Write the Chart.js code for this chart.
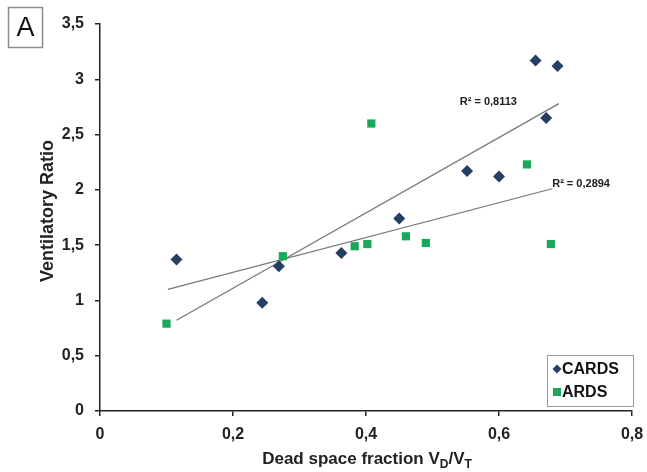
<!DOCTYPE html>
<html>
<head>
<meta charset="utf-8">
<script src="https://cdn.jsdelivr.net/npm/chart.js@4/dist/chart.umd.min.js"></script>
<style>
  html, body { margin: 0; background: #fff; }
</style>
</head>
<body>
<canvas id="chart" width="647" height="472"></canvas>
<script>
// CARDS (diamonds)
const cardsX = [0.115, 0.244, 0.269, 0.363, 0.450, 0.552, 0.600, 0.671, 0.655, 0.688];
const cardsY = [1.37, 0.98, 1.31, 1.43, 1.74, 2.17, 2.12, 2.65, 3.17, 3.12];
// ARDS (squares)
const ardsX = [0.100, 0.275, 0.383, 0.402, 0.408, 0.460, 0.490, 0.642, 0.678];
const ardsY = [0.79, 1.40, 1.49, 1.51, 2.60, 1.58, 1.52, 2.23, 1.51];
// trend line end points
const cardsTrendX = [0.115, 0.690];
const cardsTrendY = [0.82, 2.78];
const ardsTrendX = [0.102, 0.680];
const ardsTrendY = [1.10, 2.01];
const r2Labels = ['R² = 0,8113', 'R² = 0,2894'];
const r2Pos = [[0.541, 2.795], [0.680, 2.052]];

const FONT = '"Liberation Sans", Arial, sans-serif';
const NAVY = '#243e64';
const GREEN = '#1aa95b';

const pts = (xs, ys) => xs.map((x, i) => ({ x: x, y: ys[i] }));
const fmt = v => String(Number(v.toFixed(2))).replace('.', ',');

const extras = {
  id: 'extras',
  afterDraw(chart) {
    const ctx = chart.ctx;
    const xs = chart.scales.x, ys = chart.scales.y;
    ctx.save();
    // panel letter
    ctx.strokeStyle = '#8c8c8c';
    ctx.lineWidth = 1.5;
    ctx.strokeRect(8.5, 7.5, 34, 40);
    ctx.fillStyle = '#111';
    ctx.font = '27px ' + FONT;
    ctx.textAlign = 'center';
    ctx.textBaseline = 'middle';
    ctx.fillText('A', 25.5, 28.5);

    // R² labels
    ctx.font = 'bold 11px ' + FONT;
    ctx.textAlign = 'left';
    ctx.fillStyle = '#222';
    r2Labels.forEach((t, i) => {
      ctx.fillText(t, xs.getPixelForValue(r2Pos[i][0]), ys.getPixelForValue(r2Pos[i][1]));
    });

    // y title
    ctx.save();
    ctx.translate(48, 211);
    ctx.rotate(-Math.PI / 2);
    ctx.textAlign = 'center';
    ctx.font = 'bold 18px ' + FONT;
    ctx.fillText('Ventilatory Ratio', 0, 0);
    ctx.restore();

    // x title with subscripts
    const parts = [['Dead space fraction V', 0], ['D', 1], ['/V', 0], ['T', 1]];
    const big = 'bold 17px ' + FONT, small = 'bold 12px ' + FONT;
    let w = 0;
    parts.forEach(p => { ctx.font = p[1] ? small : big; w += ctx.measureText(p[0]).width; });
    let x = 367 - w / 2;
    const base = 464;
    ctx.textAlign = 'left';
    ctx.textBaseline = 'alphabetic';
    parts.forEach(p => {
      ctx.font = p[1] ? small : big;
      ctx.fillText(p[0], x, p[1] ? base + 4 : base);
      x += ctx.measureText(p[0]).width;
    });

    // legend
    ctx.strokeStyle = '#9a9a9a';
    ctx.lineWidth = 1;
    ctx.strokeRect(547.5, 355.5, 86, 51);
    ctx.font = 'bold 16px ' + FONT;
    ctx.textBaseline = 'middle';
    ctx.fillStyle = NAVY;
    ctx.beginPath();
    ctx.moveTo(557, 364.5); ctx.lineTo(561.5, 369); ctx.lineTo(557, 373.5); ctx.lineTo(552.5, 369);
    ctx.closePath(); ctx.fill();
    ctx.fillStyle = GREEN;
    ctx.fillRect(553, 388, 8, 8);
    ctx.fillStyle = '#111';
    ctx.fillText(chart.data.datasets[0].label, 562, 370);
    ctx.fillText(chart.data.datasets[1].label, 562, 393);
    ctx.restore();
  }
};

const axisCommon = {
  border: { color: '#222', width: 1.5 },
  grid: { display: true, drawOnChartArea: false, drawTicks: true, tickLength: 5, color: '#222', lineWidth: 1.5 },
  title: { display: false }
};

new Chart(document.getElementById('chart').getContext('2d'), {
  type: 'scatter',
  data: {
    datasets: [{
      label: 'CARDS',
      data: pts(cardsX, cardsY),
      pointStyle: 'rectRot',
      pointRadius: 6,
      backgroundColor: NAVY,
      borderColor: NAVY,
      borderWidth: 0
    }, {
      label: 'ARDS',
      data: pts(ardsX, ardsY),
      pointStyle: 'rect',
      pointRadius: 5.8,
      backgroundColor: GREEN,
      borderColor: GREEN,
      borderWidth: 0
    }, {
      type: 'line',
      label: 'CARDS trend',
      data: pts(cardsTrendX, cardsTrendY),
      borderColor: '#777',
      borderWidth: 1.2,
      pointRadius: 0
    }, {
      type: 'line',
      label: 'ARDS trend',
      data: pts(ardsTrendX, ardsTrendY),
      borderColor: '#777',
      borderWidth: 1.2,
      pointRadius: 0
    }]
  },
  options: {
    responsive: false,
    animation: false,
    layout: { padding: { top: 24, right: 15, left: 0, bottom: 0 } },
    plugins: { legend: { display: false }, tooltip: { enabled: false } },
    scales: {
      x: Object.assign({}, axisCommon, {
        type: 'linear', min: 0, max: 0.8,
        ticks: { stepSize: 0.2, padding: 9, color: '#222', font: { family: FONT, size: 16, weight: 'bold' }, callback: v => fmt(v) },
        afterFit: s => { s.height = 61; s.paddingRight = 0; s.paddingLeft = 0; }
      }),
      y: Object.assign({}, axisCommon, {
        min: 0, max: 3.5,
        ticks: { stepSize: 0.5, padding: 11, color: '#222', font: { family: FONT, size: 16, weight: 'bold' }, callback: v => fmt(v) },
        afterFit: s => { s.width = 100; s.paddingTop = 0; s.paddingBottom = 0; }
      })
    }
  },
  plugins: [extras]
});
</script>
</body>
</html>
